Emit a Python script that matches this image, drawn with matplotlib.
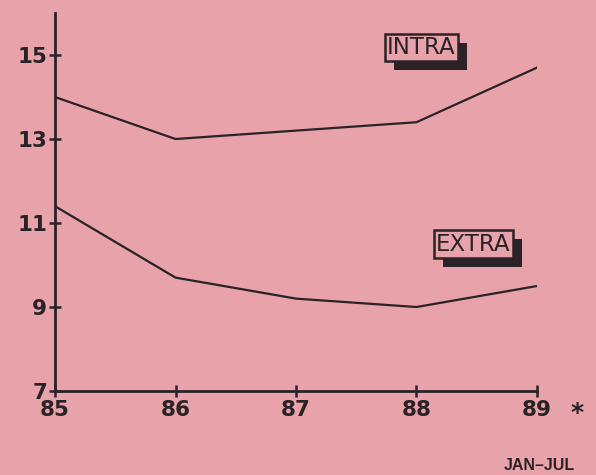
import matplotlib
matplotlib.use('Agg')
import matplotlib.pyplot as plt
from matplotlib.patches import Rectangle

years = [85, 86, 87, 88, 89]
year_labels = ['85', '86', '87', '88', '89']
intra = [14.0, 13.0, 13.2, 13.4, 14.7]
extra = [11.4, 9.7, 9.2, 9.0, 9.5]
y_ticks = [7, 9, 11, 13, 15]

bg = '#e8a3aa'
ink = '#2a2226'

plt.rcParams['font.family'] = ['DejaVu Sans']

fig = plt.figure(figsize=(5.96, 4.75), dpi=100)
fig.patch.set_facecolor(bg)
ax = fig.add_axes([0.0923, 0.1768, 0.8087, 0.7958])
ax.set_facecolor(bg)

ax.plot(years, intra, color=ink, lw=1.6)
ax.plot(years, extra, color=ink, lw=1.6)

ax.set_xlim(85, 89)
ax.set_ylim(7, 16)
ax.set_xticks(years)
ax.set_xticklabels(year_labels)
ax.set_yticks(y_ticks)
for s in ['top', 'right']:
    ax.spines[s].set_visible(False)
for s in ['left', 'bottom']:
    ax.spines[s].set_linewidth(2)
    ax.spines[s].set_color(ink)
ax.tick_params(axis='both', direction='inout', length=9, width=1.8, color=ink,
               labelsize=15.5, labelcolor=ink)
ax.tick_params(axis='x', pad=2)
ax.tick_params(axis='y', pad=1)
for lbl in ax.get_xticklabels() + ax.get_yticklabels():
    lbl.set_fontweight('semibold')

labels = []
for x, y, text in [(88.04, 15.18, 'INTRA'), (88.47, 10.5, 'EXTRA')]:
    t = ax.text(x, y, text, fontsize=16.5, color=ink, ha='center', va='center', zorder=5,
                bbox=dict(boxstyle='square,pad=0.1', facecolor=bg, edgecolor=ink, lw=1.8),
                clip_on=False)
    labels.append(t)

# drop shadow behind each label box
fig.canvas.draw()
for t in labels:
    ext = t.get_bbox_patch().get_window_extent()
    shadow = Rectangle((ext.x0 + 9, ext.y0 - 9), ext.width, ext.height,
                       transform=None, facecolor=ink, edgecolor='none', zorder=4)
    ax.add_artist(shadow)

fig.text(577 / 596, 1 - 413 / 475, '*', fontsize=18, fontweight='bold', color=ink,
         ha='center', va='center')
fig.text(575 / 596, 1 - 466 / 475, 'JAN\u2013JUL', fontsize=11.5, fontweight='bold',
         family='Liberation Sans', color=ink, ha='right', va='center')

fig.savefig('out.png', dpi=100, facecolor=bg)
